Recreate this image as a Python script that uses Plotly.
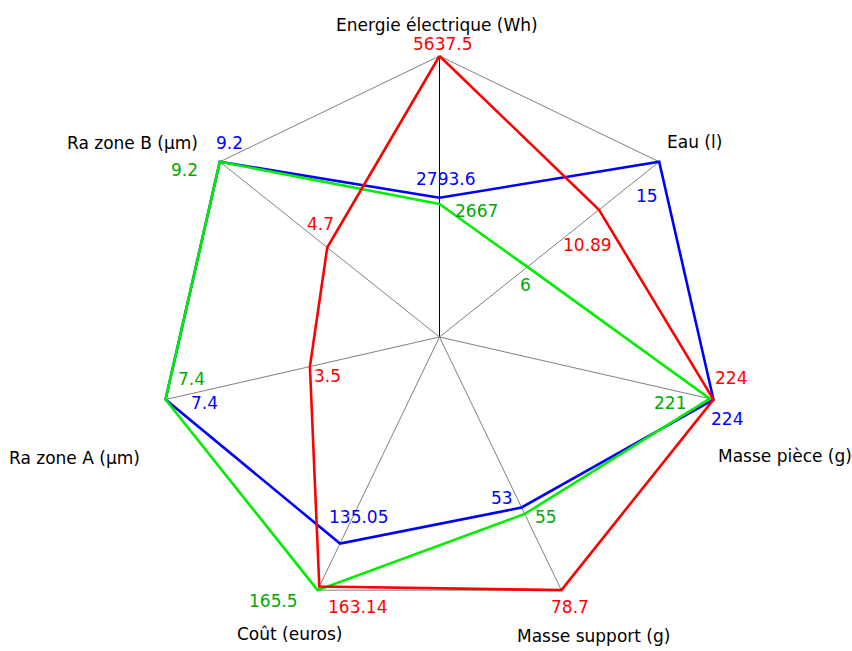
import math
import plotly.graph_objects as go

# Axes of the radar and the three measured configurations
axes = ["Energie électrique (Wh)", "Eau (l)", "Masse pièce (g)", "Masse support (g)",
        "Coût (euros)", "Ra zone A (µm)", "Ra zone B (µm)"]
red_vals = [5637.5, 10.89, 224, 78.7, 163.14, 3.5, 4.7]
blue_vals = [2793.6, 15, 224, 53, 135.05, 7.4, 9.2]
green_vals = [2667, 6, 221, 55, 165.5, 7.4, 9.2]

# pixel offsets of value labels from their vertex (dx right, dy down)
red_off = [(3, -12), (-11, 35), (18, -22), (9, 17), (38, 20), (18, 9), (-7, -23)]
blue_off = [(6, -19), (-12, 34), (14, 19), (-20, -9), (18, -27), (39, 3), (10, -19)]
green_off = [(37, 7), (-2, 18), (-40, 4), (21, 3), (-44, 11), (26, -21), (-35, 8)]
# axis title offsets from the outer vertex
axis_off = [(-3, -31), (35, -20), (72, 56), (32, 46), (-28, 44), (-91, 58), (-87, -19)]

W, H = 852, 651
CX, CY, R = 439.5, 337.0, 281.0
RMAX = 1.04            # radial headroom so edge strokes are not clipped
FONT = "DejaVu Sans"
FS = 17
n = len(axes)
axis_max = [max(a, b, c) for a, b, c in zip(red_vals, blue_vals, green_vals)]

series = [
    ("blue", blue_vals, "#0000ff", "#0000ff", blue_off),
    ("green", green_vals, "#00ee00", "#00aa00", green_off),
    ("red", red_vals, "#ff0000", "#ff0000", red_off),
]

RD = R * RMAX
dom_x = [(CX - RD) / W, (CX + RD) / W]
dom_y = [1 - (CY + RD) / H, 1 - (CY - RD) / H]


def to_paper(r, k):
    ang = math.radians(90 - k * 360.0 / n)
    px = CX + r * R * math.cos(ang)
    py = CY - r * R * math.sin(ang)
    return px / W, 1 - py / H


fig = go.Figure()

# outer frame and spokes
fig.add_trace(go.Scatterpolar(r=[1] * (n + 1), theta=axes + [axes[0]], mode="lines",
                              line=dict(color="#808080", width=1), hoverinfo="skip"))
for k, a in enumerate(axes):
    fig.add_trace(go.Scatterpolar(r=[0, 1], theta=[a, a], mode="lines",
                                  line=dict(color="#000000" if k == 0 else "#808080", width=1),
                                  hoverinfo="skip"))

annotations = []
for name, vals, lc, tc, offs in series:
    rn = [v / m for v, m in zip(vals, axis_max)]
    fig.add_trace(go.Scatterpolar(
        r=rn + [rn[0]], theta=axes + [axes[0]], mode="lines", name=name,
        line=dict(color=lc, width=2.6)))
    for k, (v, r) in enumerate(zip(vals, rn)):
        x, y = to_paper(r, k)
        dx, dy = offs[k]
        annotations.append(dict(x=x, y=y, xref="paper", yref="paper", text=f"{v:g}",
                                xanchor="center", yanchor="middle",
                                showarrow=False, xshift=dx, yshift=-dy,
                                font=dict(color=tc, size=FS, family=FONT)))

for k, label in enumerate(axes):
    x, y = to_paper(1, k)
    dx, dy = axis_off[k]
    annotations.append(dict(x=x, y=y, xref="paper", yref="paper", text=label,
                            xanchor="center", yanchor="middle",
                            showarrow=False, xshift=dx, yshift=-dy,
                            font=dict(color="#000000", size=FS, family=FONT)))

fig.update_layout(
    width=W, height=H,
    margin=dict(l=0, r=0, t=0, b=0),
    paper_bgcolor="white", plot_bgcolor="white",
    showlegend=False,
    annotations=annotations,
    polar=dict(
        domain=dict(x=dom_x, y=dom_y),
        bgcolor="rgba(0,0,0,0)",
        gridshape="linear",
        radialaxis=dict(visible=False, range=[0, RMAX]),
        angularaxis=dict(direction="clockwise", rotation=90, showticklabels=False,
                         ticks="", showgrid=False, showline=False),
    ),
)

fig.write_html("out.html")
